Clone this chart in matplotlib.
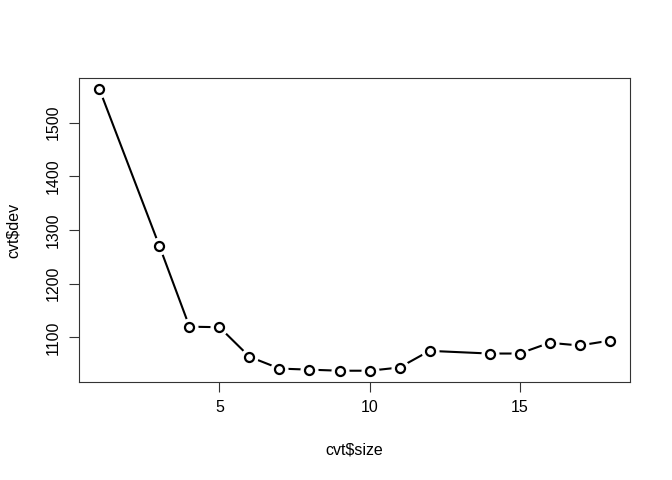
import matplotlib
matplotlib.use('Agg')
import matplotlib.pyplot as plt

# tree sizes and cross-validated deviance
size = [1, 3, 4, 5, 6, 7, 8, 9, 10, 11, 12, 14, 15, 16, 17, 18]
dev = [1562, 1270, 1120, 1119, 1064, 1042, 1040, 1038, 1038, 1044,
       1075, 1070, 1070, 1090, 1085, 1094]
xticks = [5, 10, 15]
yticks = [1100, 1200, 1300, 1400, 1500]

plt.rcParams['font.family'] = ['Liberation Sans', 'DejaVu Sans']

fig = plt.figure(figsize=(6.72, 4.8), dpi=100)
ax = fig.add_axes([0.1176, 0.2042, 0.8199, 0.6333])

# R type="b": line with gaps around the points
ax.plot(size, dev, color='black', lw=1.5, zorder=1)
ax.plot(size, dev, 'o', ms=12, mfc='white', mec='white', zorder=2)
ax.plot(size, dev, 'o', ms=6.5, mfc='white', mec='black', mew=1.6, zorder=3)

pad_x = (max(size) - min(size)) * 0.04
pad_y = (max(dev) - min(dev)) * 0.04
ax.set_xlim(min(size) - pad_x, max(size) + pad_x)
ax.set_ylim(min(dev) - pad_y, max(dev) + pad_y)

ax.set_xticks(xticks)
ax.set_yticks(yticks)
ax.set_yticklabels([str(v) for v in yticks], rotation=90, va='center')
ax.tick_params(length=7, width=0.8, labelsize=11.5, pad=6, color='#333333')

for s in ax.spines.values():
    s.set_linewidth(0.8)
    s.set_color('#333333')

ax.set_xlabel(r'cvt\$size', fontsize=11.5, labelpad=20)
ax.set_ylabel(r'cvt\$dev', fontsize=11.5, labelpad=18)

fig.savefig('out.png', dpi=100)
